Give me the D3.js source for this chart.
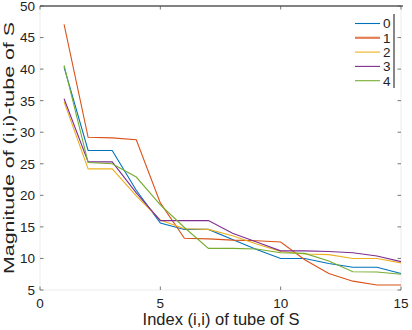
<!DOCTYPE html>
<html>
<head>
<meta charset="utf-8">
<script src="https://cdn.jsdelivr.net/npm/d3@7"></script>
<style>
  body { margin: 0; background: #fff; }
  text { font-family: "Liberation Sans", Arial, sans-serif; fill: #222; }
</style>
</head>
<body>
<div id="chart"></div>
<script>
const tubeIndex = [1, 2, 3, 4, 5, 6, 7, 8, 9, 10, 11, 12, 13, 14, 15];
const seriesNames = ['0', '1', '2', '3', '4'];
const s0 = [40.3, 27.1, 27.1, 20.8, 15.6, 14.6, 14.6, 13.0, 11.4, 10.0, 10.0, 9.2, 8.6, 8.6, 7.6];
const s1 = [47.1, 29.2, 29.1, 28.8, 18.8, 13.2, 13.1, 12.9, 12.8, 12.6, 9.8, 7.6, 6.4, 5.8, 5.8];
const s2 = [34.8, 24.2, 24.2, 19.9, 16.1, 14.7, 14.6, 13.6, 12.3, 11.1, 10.7, 10.6, 10.0, 10.0, 9.3];
const s3 = [35.3, 25.3, 25.3, 20.4, 16.0, 16.0, 16.0, 14.0, 12.6, 11.2, 11.2, 11.1, 10.9, 10.4, 9.5];
const s4 = [40.6, 25.2, 25.0, 22.9, 18.5, 14.9, 11.6, 11.6, 11.5, 10.9, 10.8, 9.6, 7.9, 7.85, 7.5];
const xTicks = [0, 5, 10, 15];
const yTicks = [5, 10, 15, 20, 25, 30, 35, 40, 45, 50];

const colors = ['#0072BD', '#D95319', '#EDB120', '#7E2F8E', '#77AC30'];
const allSeries = [s0, s1, s2, s3, s4];

const width = 412, height = 330;
const plotLeft = 40, plotRight = 401, plotTop = 6, plotBottom = 290;

const svg = d3.select('#chart').append('svg')
    .attr('width', width)
    .attr('height', height);

const x = d3.scaleLinear().domain([0, 15]).range([plotLeft, plotRight]);
const y = d3.scaleLinear().domain([5, 50]).range([plotBottom, plotTop]);

// faint box edges, black top edge (as in the reference)
svg.append('rect')
    .attr('x', plotLeft).attr('y', plotTop)
    .attr('width', plotRight - plotLeft).attr('height', plotBottom - plotTop)
    .attr('fill', 'none').attr('stroke', '#ececec');
svg.append('line')
    .attr('x1', plotLeft).attr('x2', plotRight + 2)
    .attr('y1', plotTop).attr('y2', plotTop)
    .attr('stroke', '#111').attr('stroke-width', 1.2);

// ticks, pointing inward
const tickCol = '#555';
svg.append('g').selectAll('line').data(yTicks).enter().append('line')
    .attr('x1', plotLeft).attr('x2', plotLeft + 3.5)
    .attr('y1', d => y(d)).attr('y2', d => y(d))
    .attr('stroke', tickCol).attr('stroke-width', 0.8);
svg.append('g').selectAll('line').data(yTicks).enter().append('line')
    .attr('x1', plotRight - 3.5).attr('x2', plotRight)
    .attr('y1', d => y(d)).attr('y2', d => y(d))
    .attr('stroke', tickCol).attr('stroke-width', 0.8);
svg.append('g').selectAll('line').data(xTicks).enter().append('line')
    .attr('x1', d => x(d)).attr('x2', d => x(d))
    .attr('y1', plotBottom).attr('y2', plotBottom - 3.5)
    .attr('stroke', tickCol).attr('stroke-width', 0.8);
svg.append('g').selectAll('line').data(xTicks).enter().append('line')
    .attr('x1', d => x(d)).attr('x2', d => x(d))
    .attr('y1', plotTop).attr('y2', plotTop + 3.5)
    .attr('stroke', tickCol).attr('stroke-width', 0.8);

// tick labels
svg.append('g').selectAll('text').data(yTicks).enter().append('text')
    .attr('x', plotLeft - 5)
    .attr('y', d => y(d))
    .attr('dy', '0.36em')
    .attr('text-anchor', 'end')
    .attr('font-size', 13.5)
    .text(d => d);
svg.append('g').selectAll('text').data(xTicks).enter().append('text')
    .attr('x', d => x(d))
    .attr('y', 308)
    .attr('text-anchor', 'middle')
    .attr('font-size', 13.5)
    .text(d => d);

// axis titles
svg.append('text')
    .attr('x', 221).attr('y', 325)
    .attr('text-anchor', 'middle')
    .attr('font-size', 16.5)
    .text('Index (i,i) of tube of S');
svg.append('text')
    .attr('transform', 'translate(14,148) rotate(-90)')
    .attr('text-anchor', 'middle')
    .attr('font-size', 15)
    .attr('textLength', 252)
    .attr('lengthAdjust', 'spacingAndGlyphs')
    .text('Magnitude of (i,i)-tube of S');

// series lines
const line = d3.line()
    .x((d, i) => x(tubeIndex[i]))
    .y(d => y(d));

svg.append('g').selectAll('path').data(allSeries).enter().append('path')
    .attr('d', d => line(d))
    .attr('fill', 'none')
    .attr('stroke', (d, i) => colors[i])
    .attr('stroke-width', 1.1);

// legend
const legend = svg.append('g');
legend.append('line')
    .attr('x1', 394).attr('x2', 394)
    .attr('y1', 14).attr('y2', 88)
    .attr('stroke', '#111').attr('stroke-width', 1);
seriesNames.forEach((name, i) => {
    const ly = 23.5 + i * 14.3;
    legend.append('line')
        .attr('x1', 355).attr('x2', 380)
        .attr('y1', ly).attr('y2', ly)
        .attr('stroke', colors[i])
        .attr('stroke-width', i === 1 ? 2.2 : 1.1)
        .attr('stroke-opacity', i === 1 ? 0.75 : 1);
    legend.append('text')
        .attr('x', 383).attr('y', ly)
        .attr('dy', '0.36em')
        .attr('font-size', 13.5)
        .text(name);
});
</script>
</body>
</html>
